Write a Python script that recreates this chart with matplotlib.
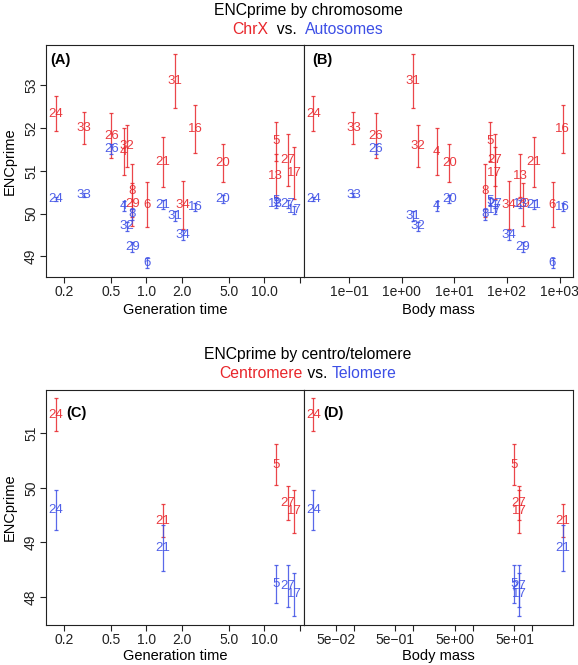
import matplotlib
matplotlib.use('Agg')
import matplotlib.pyplot as plt
import numpy as np

plt.rcParams['font.family'] = ['Liberation Sans', 'DejaVu Sans']

RED = '#E8262B'
BLUE = '#3D4FE6'

# chromosome level data (ChrX vs autosomes)
chrom = ['24', '33', '26', '4', '32', '8', '29', '6', '21', '31', '34', '16', '20', '5', '13', '27', '17']
gen_time = [0.169, 0.294, 0.502, 0.642, 0.677, 0.761, 0.761, 1.01, 1.38, 1.76, 2.05, 2.60, 4.47, 12.5, 12.5, 15.8, 17.9]
body_mass = [0.021, 0.121, 0.321, 4.6, 2.0, 39, 198, 736, 321, 1.63, 109, 1140, 8.0, 48, 179, 59, 59]
chrx_enc = [52.33, 52.00, 51.82, 51.45, 51.58, 50.53, 50.22, 50.21, 51.21, 53.10, 50.20, 51.97, 51.19, 51.69, 50.89, 51.26, 50.95]
chrx_err = [0.41, 0.38, 0.53, 0.54, 0.50, 0.62, 0.50, 0.52, 0.58, 0.64, 0.56, 0.56, 0.44, 0.45, 0.50, 0.61, 0.60]
auto_enc = [50.34, 50.44, 51.51, 50.18, 49.70, 49.98, 49.22, 48.84, 50.21, 49.95, 49.50, 50.16, 50.34, 50.30, 50.22, 50.23, 50.09]
auto_err = [0.05, 0.05, 0.12, 0.12, 0.10, 0.12, 0.12, 0.12, 0.10, 0.12, 0.12, 0.10, 0.10, 0.10, 0.10, 0.10, 0.10]

# centromere vs telomere
ct_chrom = ['24', '21', '5', '27', '17']
ct_gen = [0.169, 1.38, 12.5, 15.8, 17.9]
ct_mass = [0.021, 321, 49, 60, 60]
centro_enc = [51.34, 49.40, 50.42, 49.73, 49.57]
centro_err = [0.30, 0.30, 0.375, 0.31, 0.39]
telo_enc = [49.59, 48.90, 48.24, 48.20, 48.05]
telo_err = [0.37, 0.42, 0.34, 0.38, 0.40]

W, H = 578, 665
fig = plt.figure(figsize=(W / 100, H / 100), dpi=100)


def px_axes(x0, y0, x1, y1):
    return fig.add_axes([x0 / W, 1 - y1 / H, (x1 - x0) / W, (y1 - y0) / H])


def rlim(lo, hi, log=False):
    if log:
        lo, hi = np.log10(lo), np.log10(hi)
    d = (hi - lo) * 0.04
    lo, hi = lo - d, hi + d
    if log:
        return 10 ** lo, 10 ** hi
    return lo, hi


def draw(ax, x, y, err, labels, color):
    ax.errorbar(x, y, yerr=err, fmt='none', ecolor=color, elinewidth=0.9,
                capsize=1.4, capthick=0.9, alpha=0.85, zorder=2)
    for xi, yi, lab in zip(x, y, labels):
        ax.text(xi, yi, lab, color=color, ha='center', va='center',
                fontsize=9.5, alpha=0.9, zorder=3)


def style(ax):
    for s in ax.spines.values():
        s.set_linewidth(0.8)
        s.set_color('#222222')
    ax.tick_params(direction='out', length=4.2, width=0.8, labelsize=10, pad=1.5, colors='#222222')
    ax.minorticks_off()


ax_a = px_axes(46, 45, 303.5, 277)
ax_b = px_axes(303.5, 45, 572.5, 277)
ax_c = px_axes(46, 389.5, 303.5, 625)
ax_d = px_axes(303.5, 389.5, 572.5, 625)

top_lo = min(np.min(np.array(chrx_enc) - chrx_err), np.min(np.array(auto_enc) - auto_err))
top_hi = max(np.max(np.array(chrx_enc) + chrx_err), np.max(np.array(auto_enc) + auto_err))
bot_lo = min(np.min(np.array(centro_enc) - centro_err), np.min(np.array(telo_enc) - telo_err))
bot_hi = max(np.max(np.array(centro_enc) + centro_err), np.max(np.array(telo_enc) + telo_err))

for ax, xv in [(ax_a, gen_time), (ax_b, body_mass)]:
    ax.set_xscale('log')
    draw(ax, xv, chrx_enc, chrx_err, chrom, RED)
    draw(ax, xv, auto_enc, auto_err, chrom, BLUE)
    ax.set_xlim(*rlim(min(xv), max(xv), log=True))
    ax.set_ylim(*rlim(top_lo, top_hi))

for ax, xv in [(ax_c, ct_gen), (ax_d, ct_mass)]:
    ax.set_xscale('log')
    draw(ax, xv, centro_enc, centro_err, ct_chrom, RED)
    draw(ax, xv, telo_enc, telo_err, ct_chrom, BLUE)
    ax.set_xlim(*rlim(min(xv), max(xv), log=True))
    ax.set_ylim(*rlim(bot_lo, bot_hi))

gen_ticks = [0.2, 0.5, 1, 2, 5, 10, 20]
gen_labels = ['0.2', '0.5', '1.0', '2.0', '5.0', '10.0', '']
mass_ticks_b = [0.1, 1, 10, 100, 1000]
mass_labels_b = ['1e\u221201', '1e+00', '1e+01', '1e+02', '1e+03']
mass_ticks_d = [0.05, 0.1, 0.5, 1, 5, 10, 50, 100]
mass_labels_d = ['5e\u221202', '', '5e\u221201', '', '5e+00', '', '5e+01', '']

for ax in [ax_a, ax_c]:
    style(ax)
    ax.set_xticks(gen_ticks)
    ax.set_xticklabels(gen_labels)
for ax, t, l in [(ax_b, mass_ticks_b, mass_labels_b), (ax_d, mass_ticks_d, mass_labels_d)]:
    style(ax)
    ax.set_xticks(t)
    ax.set_xticklabels(l)
    ax.set_yticks([])

ax_a.set_yticks([49, 50, 51, 52, 53])
ax_a.set_yticklabels(['49', '50', '51', '52', '53'], rotation=90, va='center')
ax_c.set_yticks([48, 49, 50, 51])
ax_c.set_yticklabels(['48', '49', '50', '51'], rotation=90, va='center')
for ax in [ax_a, ax_b, ax_c, ax_d]:
    ax.minorticks_off()

# axis titles
fs = 10.5
fig.text(10 / W, 1 - 161 / H, 'ENCprime', rotation=90, ha='center', va='center', fontsize=fs)
fig.text(10 / W, 1 - 507 / H, 'ENCprime', rotation=90, ha='center', va='center', fontsize=fs)
fig.text(175 / W, 1 - 310 / H, 'Generation time', ha='center', va='center', fontsize=fs)
fig.text(438 / W, 1 - 310 / H, 'Body mass', ha='center', va='center', fontsize=fs)
fig.text(175 / W, 1 - 656 / H, 'Generation time', ha='center', va='center', fontsize=fs)
fig.text(438 / W, 1 - 656 / H, 'Body mass', ha='center', va='center', fontsize=fs)

# panel letters
for x, y, s in [(50, 60, '(A)'), (312, 60, '(B)'), (66, 413, '(C)'), (323, 413, '(D)')]:
    fig.text(x / W, 1 - y / H, s, ha='left', va='center', fontsize=10.5, fontweight='bold')

# titles
tfs = 11.3
fig.text(308 / W, 1 - 10 / H, 'ENCprime by chromosome', ha='center', va='center', fontsize=tfs)
fig.text(308 / W, 1 - 355 / H, 'ENCprime by centro/telomere', ha='center', va='center', fontsize=tfs)


def colour_line(y, parts, cx=308):
    renderer = fig.canvas.get_renderer()
    texts = [fig.text(0, 1 - y / H, s, color=c, fontsize=tfs, va='center', ha='left') for s, c in parts]
    widths = [t.get_window_extent(renderer).width for t in texts]
    x = cx - sum(widths) / 2
    for t, w in zip(texts, widths):
        t.set_x(x / W)
        x += w


colour_line(29, [('ChrX', RED), ('  vs.  ', 'black'), ('Autosomes', BLUE)])
colour_line(373, [('Centromere', RED), (' vs. ', 'black'), ('Telomere', BLUE)])

fig.savefig('out.png', dpi=100)
